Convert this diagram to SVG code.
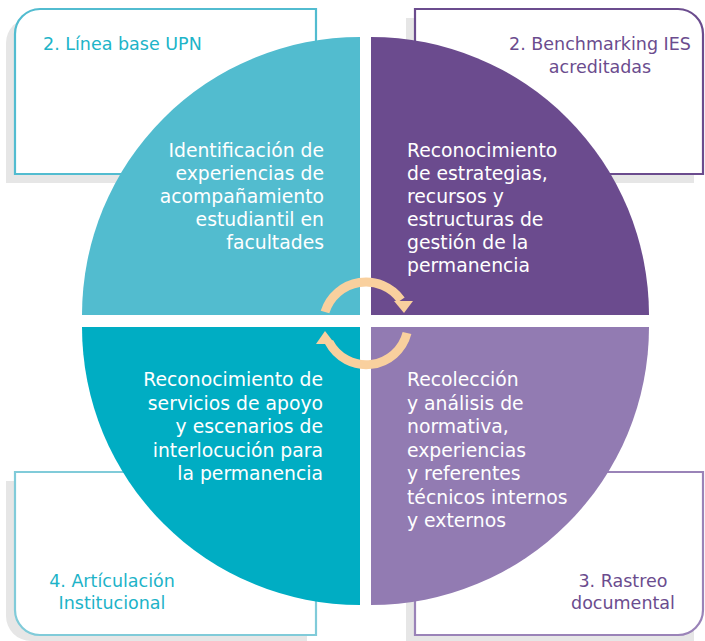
<svg xmlns="http://www.w3.org/2000/svg" width="705" height="641" viewBox="0 0 705 641">
<style>
text{font-family:"DejaVu Sans","Liberation Sans",sans-serif;font-size:17.5px}
text.in{fill:#ffffff;font-size:18.8px}
.shadow{fill:#e6e6e6}
.box{fill:#ffffff;stroke-width:2.2}
.arc{fill:none;stroke:#f9d09e;stroke-width:9}
.head{fill:#f9d09e}
</style>
<rect width="705" height="641" fill="#ffffff"/>
<g id="box-linea-base">
<path class="shadow" d="M6,43 A25,25 0 0 1 31,18 H307 V183 H6 Z"/>
<path class="box" stroke="#52bcd0" d="M15,34 A25,25 0 0 1 40,9 H316 V174 H15 Z"/>
<text x="43" y="50" fill="#20b4c8">2. Línea base UPN</text>
</g>
<g id="box-benchmarking">
<path class="shadow" d="M406,18 H694 V183 H406 Z"/>
<path class="box" stroke="#6b4c8e" d="M415,9 H678 A25,25 0 0 1 703,34 V174 H415 Z"/>
<text x="600" y="50" fill="#6b4c8e" text-anchor="middle">2. Benchmarking IES</text>
<text x="600" y="73" fill="#6b4c8e" text-anchor="middle">acreditadas</text>
</g>
<g id="box-articulacion">
<path class="shadow" d="M6,481 H307 V641 H31 A25,25 0 0 1 6,616 Z"/>
<path class="box" stroke="#80cbd9" d="M15,472 H316 V635 H40 A25,25 0 0 1 15,610 Z"/>
<text x="112" y="587" fill="#1db3c8" text-anchor="middle">4. Artículación</text>
<text x="112" y="609" fill="#1db3c8" text-anchor="middle">Institucional</text>
</g>
<g id="box-rastreo">
<path class="shadow" d="M406,481 H694 V641 H406 Z"/>
<path class="box" stroke="#9a83b8" d="M415,472 H703 V610 A25,25 0 0 1 678,635 H415 Z"/>
<text x="623" y="587" fill="#6b4c8e" text-anchor="middle">3. Rastreo</text>
<text x="623" y="609" fill="#6b4c8e" text-anchor="middle">documental</text>
</g>
<g id="q-identificacion">
<path d="M360,315 L82,315 A278,278 0 0 1 360,37 Z" fill="#52bccf"/>
<text class="in" text-anchor="end"><tspan x="324" y="157">Identificación de</tspan><tspan x="324" y="180">experiencias de</tspan><tspan x="324" y="203">acompañamiento</tspan><tspan x="324" y="226">estudiantil en</tspan><tspan x="324" y="249">facultades</tspan></text>
</g>
<g id="q-reconocimiento-estrategias">
<path d="M371,315 L371,37 A278,278 0 0 1 649,315 Z" fill="#6b4b8e"/>
<text class="in"><tspan x="407" y="157">Reconocimiento</tspan><tspan x="407" y="180">de estrategias,</tspan><tspan x="407" y="203">recursos y</tspan><tspan x="407" y="226">estructuras de</tspan><tspan x="407" y="249">gestión de la</tspan><tspan x="407" y="272">permanencia</tspan></text>
</g>
<g id="q-reconocimiento-servicios">
<path d="M360,327 L360,605 A278,278 0 0 1 82,327 Z" fill="#00adc3"/>
<text class="in" text-anchor="end"><tspan x="323" y="386">Reconocimiento de</tspan><tspan x="323" y="409.5">servicios de apoyo</tspan><tspan x="323" y="433">y escenarios de</tspan><tspan x="323" y="456.5">interlocución para</tspan><tspan x="323" y="480">la permanencia</tspan></text>
</g>
<g id="q-recoleccion">
<path d="M371,327 L649,327 A278,278 0 0 1 371,605 Z" fill="#927bb2"/>
<text class="in"><tspan x="407" y="386">Recolección</tspan><tspan x="407" y="409.5">y análisis de</tspan><tspan x="407" y="433">normativa,</tspan><tspan x="407" y="456.5">experiencias</tspan><tspan x="407" y="480">y referentes</tspan><tspan x="407" y="503.5">técnicos internos</tspan><tspan x="407" y="527">y externos</tspan></text>
</g>
<g id="connectors">
<path class="arc" d="M325,312 A43,43 0 0 1 401,300"/>
<polygon class="head" points="394,301 413,301 404,313"/>
<path class="arc" d="M407,333 A42,42 0 0 1 329,342"/>
<polygon class="head" points="316,344 335,344 325,331"/>
</g>
</svg>
